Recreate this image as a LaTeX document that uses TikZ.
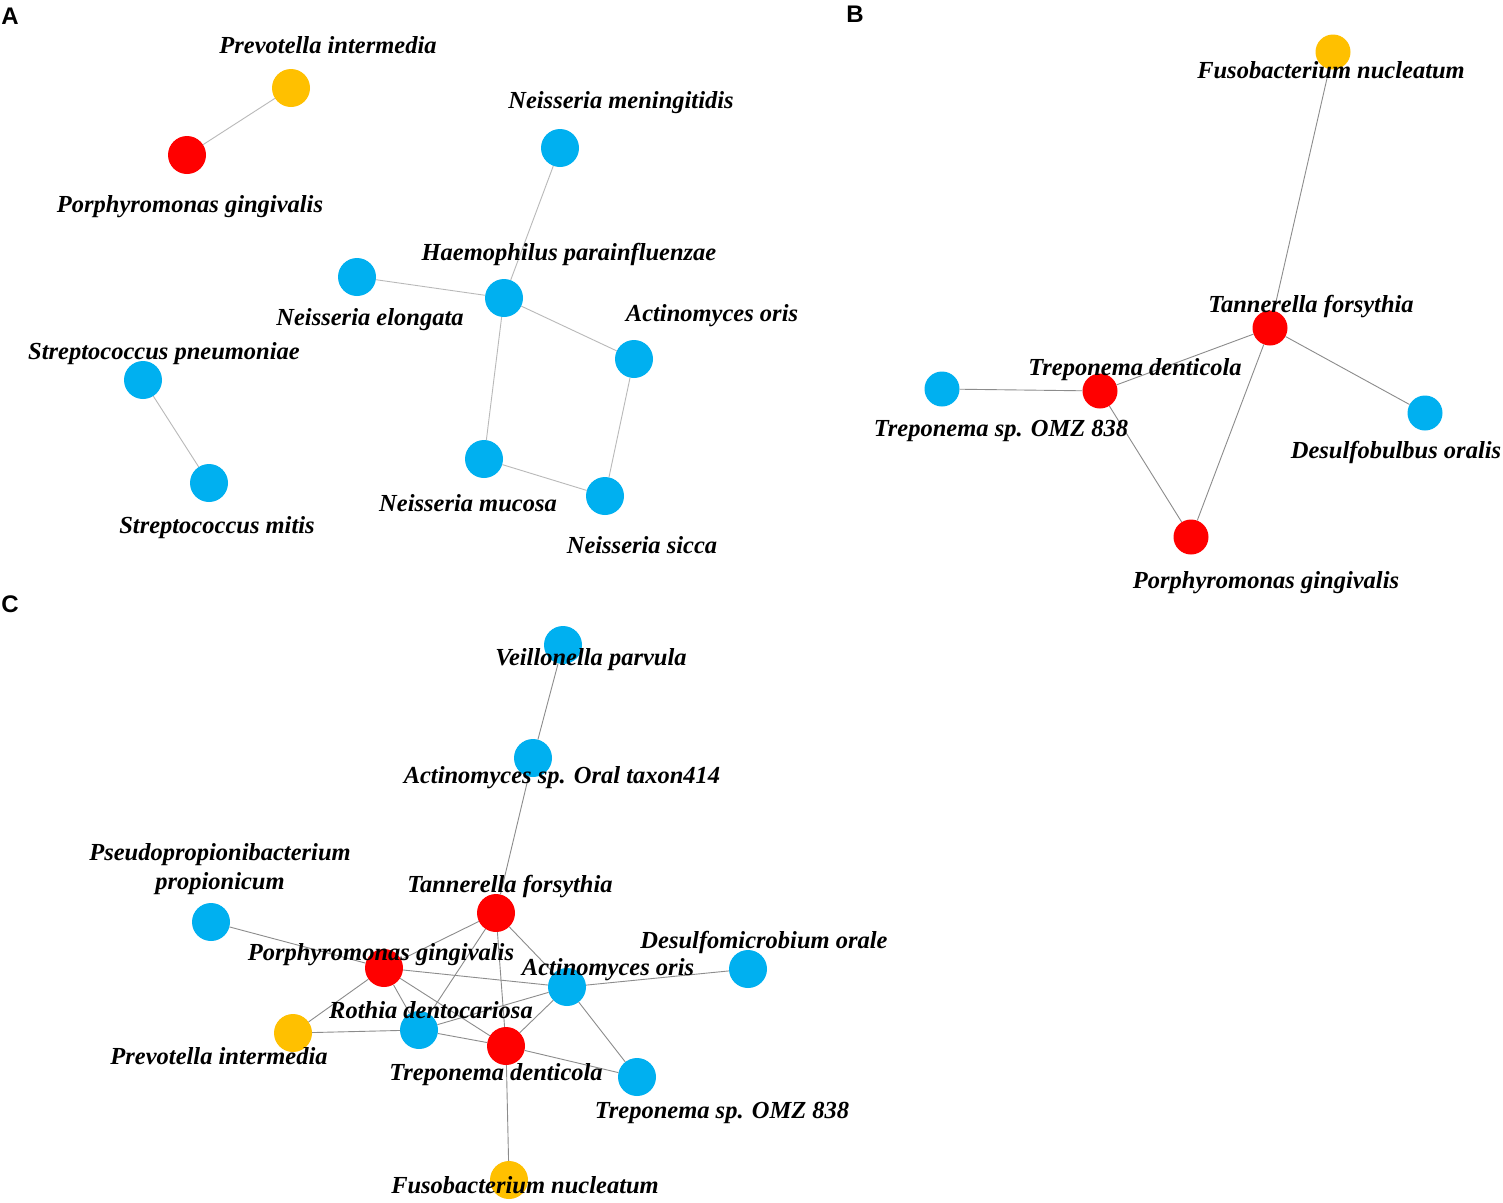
\documentclass[tikz,border=0pt]{standalone}
\usepackage{fontspec}
\setmainfont{Liberation Serif}
\newfontfamily\panelfont{Liberation Sans}
\definecolor{taxblue}{RGB}{0,176,240}
\definecolor{taxred}{RGB}{255,0,0}
\definecolor{taxgold}{RGB}{255,192,0}
\tikzset{
    taxon/.style = {circle, inner sep = 0pt, minimum size = 38pt},
    bluetaxon/.style = {taxon, fill = taxblue},
    redtaxon/.style = {taxon, fill = taxred},
    goldtaxon/.style = {taxon, fill = taxgold},
    species/.style = {font = \fontsize{24.5}{29}\selectfont\bfseries\itshape, inner sep = 0pt, align = center, yshift = -2pt},
    panel/.style = {font = \fontsize{24}{26}\selectfont\panelfont\bfseries, inner sep = 0pt},
    link/.style = {draw = gray!90, line width = 0.9pt},
    lightlink/.style = {draw = gray!55, line width = 0.9pt}
}
\begin{document}
\begin{tikzpicture}[x = 1pt, y = -1pt]
    \useasboundingbox[fill = white] (0,0) rectangle (1503,1202);
    % panel letters
    \node[panel] (panA) at (10,16) {A};
    \node[panel] (panB) at (855,14) {B};
    \node[panel] (panC) at (10,604) {C};

    % panel A
    \node[goldtaxon] (aPI) at (291,88) {};
    \node[redtaxon]  (aPG) at (187,155) {};
    \node[bluetaxon] (aNM) at (560,148) {};
    \node[bluetaxon] (aHP) at (504,298) {};
    \node[bluetaxon] (aNE) at (357,277) {};
    \node[bluetaxon] (aAO) at (634,359) {};
    \node[bluetaxon] (aSP) at (143,380) {};
    \node[bluetaxon] (aSM) at (209,483) {};
    \node[bluetaxon] (aNMu) at (484,459) {};
    \node[bluetaxon] (aNS) at (605,496) {};
    \foreach \s/\t in {aPI/aPG, aNM/aHP, aNE/aHP, aHP/aAO, aHP/aNMu, aAO/aNS, aNMu/aNS, aSP/aSM}
        \draw[lightlink] (\s) -- (\t);
    \node[species] (aPI-l) at (328,43) {Prevotella intermedia};
    \node[species] (aPG-l) at (190,205) {Porphyromonas gingivalis};
    \node[species] (aNM-l) at (621,101) {Neisseria meningitidis};
    \node[species] (aHP-l) at (569,252) {Haemophilus parainfluenzae};
    \node[species] (aNE-l) at (370,318) {Neisseria elongata};
    \node[species] (aAO-l) at (712,314) {Actinomyces oris};
    \node[species] (aSP-l) at (164,352) {Streptococcus pneumoniae};
    \node[species] (aSM-l) at (217,526) {Streptococcus mitis};
    \node[species] (aNMu-l) at (468,501) {Neisseria mucosa};
    \node[species] (aNS-l) at (642,543) {Neisseria sicca};

    % panel B
    \begin{scope}[taxon/.append style = {minimum size = 35pt}]
    \node[goldtaxon] (bFN) at (1333,52) {};
    \node[redtaxon]  (bTF) at (1270,328) {};
    \node[redtaxon]  (bTD) at (1100,391) {};
    \node[bluetaxon] (bOMZ) at (942,389) {};
    \node[bluetaxon] (bDO) at (1425,413) {};
    \node[redtaxon]  (bPG) at (1191,537) {};
    \end{scope}
    \foreach \s/\t in {bFN/bTF, bTF/bTD, bTF/bDO, bTF/bPG, bTD/bOMZ, bTD/bPG}
        \draw[link] (\s) -- (\t);
    \node[species] (bFN-l) at (1331,68) {Fusobacterium nucleatum};
    \node[species] (bTF-l) at (1311,305) {Tannerella forsythia};
    \node[species] (bTD-l) at (1135,368) {Treponema denticola};
    \node[species] (bOMZ-l) at (1001,429) {Treponema sp. OMZ 838};
    \node[species] (bDO-l) at (1396,450) {Desulfobulbus oralis};
    \node[species] (bPG-l) at (1266,581) {Porphyromonas gingivalis};

    % panel C
    \node[bluetaxon] (cVP) at (563,645) {};
    \node[bluetaxon] (cAS) at (533,758) {};
    \node[bluetaxon] (cPP) at (211,922) {};
    \node[redtaxon]  (cTF) at (496,913) {};
    \node[redtaxon]  (cPG) at (384,968) {};
    \node[bluetaxon] (cAO) at (567,987) {};
    \node[bluetaxon] (cDO) at (748,969) {};
    \node[goldtaxon] (cPI) at (293,1033) {};
    \node[bluetaxon] (cRD) at (419,1030) {};
    \node[redtaxon]  (cTD) at (506,1046) {};
    \node[bluetaxon] (cOMZ) at (637,1077) {};
    \node[goldtaxon] (cFN) at (509,1180) {};
    \foreach \s/\t in {cVP/cAS, cAS/cTF, cPP/cPG, cTF/cPG, cTF/cRD, cTF/cTD, cTF/cAO,
                       cPG/cAO, cPG/cPI, cPG/cRD, cPG/cTD, cPI/cRD, cRD/cAO, cRD/cTD,
                       cTD/cOMZ, cAO/cTD, cAO/cOMZ, cAO/cDO, cTD/cFN}
        \draw[link] (\s) -- (\t);
    \node[species] (cVP-l) at (591,658) {Veillonella parvula};
    \node[species] (cAS-l) at (562,776) {Actinomyces sp. Oral taxon414};
    \node[species] (cPP-l) at (220,867) {Pseudopropionibacterium\\propionicum};
    \node[species] (cTF-l) at (510,885) {Tannerella forsythia};
    \node[species] (cPG-l) at (381,953) {Porphyromonas gingivalis};
    \node[species] (cDO-l) at (764,940) {Desulfomicrobium orale};
    \node[species] (cAO-l) at (608,968) {Actinomyces oris};
    \node[species] (cRD-l) at (431,1008) {Rothia dentocariosa};
    \node[species] (cPI-l) at (219,1054) {Prevotella intermedia};
    \node[species] (cTD-l) at (496,1073) {Treponema denticola};
    \node[species] (cOMZ-l) at (722,1111) {Treponema sp. OMZ 838};
    \node[species] (cFN-l) at (525,1183) {Fusobacterium nucleatum};
\end{tikzpicture}
\end{document}
